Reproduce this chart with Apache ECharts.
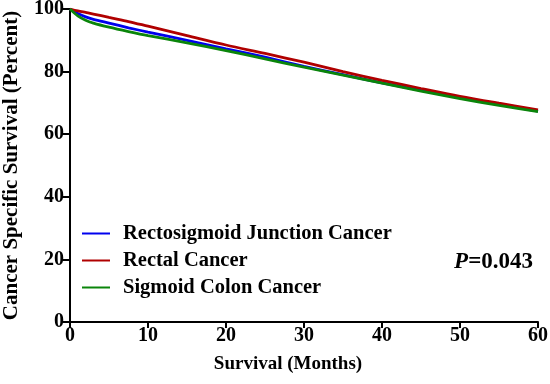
<!DOCTYPE html>
<html>
<head>
<meta charset="utf-8">
<script src="https://cdn.jsdelivr.net/npm/echarts@6/dist/echarts.min.js"></script>
<style>
  html, body { margin: 0; padding: 0; background: #fff; }
  #main { width: 550px; height: 384px; }
</style>
</head>
<body>
<div id="main"></div>
<script>
// survival time points (months)
const months = [0, 1, 2, 3, 5, 7.5, 10, 15, 20, 25, 30, 35, 40, 45, 50, 55, 60];
// cancer specific survival (%)
const rectosigmoid = [100, 98.6, 97.5, 96.7, 95.5, 94.0, 92.6, 90.0, 87.3, 84.6, 81.7, 79.0, 76.4, 74.0, 71.7, 69.5, 67.4];
const rectal = [100, 99.4, 98.9, 98.4, 97.3, 96.0, 94.5, 91.5, 88.5, 85.8, 83.0, 80.0, 77.2, 74.6, 72.1, 69.9, 67.8];
const sigmoid = [100, 97.8, 96.4, 95.5, 94.2, 92.8, 91.5, 89.2, 86.7, 84.1, 81.4, 78.9, 76.3, 73.8, 71.4, 69.2, 67.2];
const seriesNames = ['Rectosigmoid Junction Cancer', 'Rectal Cancer', 'Sigmoid Colon Cancer'];
const pValue = '0.043';

const font = '"Liberation Serif", "Times New Roman", serif';
const pairs = arr => months.map((m, i) => [m, arr[i]]);

const myChart = echarts.init(document.getElementById('main'));

const mkSeries = (name, arr, color) => ({
    name: name,
    type: 'line',
    data: pairs(arr),
    showSymbol: false,
    smooth: 0.3,
    lineStyle: { color: color, width: 2.8 },
    itemStyle: { color: color },
    emphasis: { disabled: true }
});

myChart.setOption({
    animation: false,
    grid: { left: 70, right: 12, top: 9, bottom: 62, outerBoundsMode: 'none', containLabel: false },
    title: {
        text: '{i|P}=' + pValue,
        right: 12,
        top: 246,
        textStyle: {
            fontFamily: font, fontSize: 23, fontWeight: 'bold', color: '#000',
            rich: { i: { fontFamily: font, fontSize: 23, fontWeight: 'bold', fontStyle: 'italic', color: '#000' } }
        }
    },
    legend: {
        orient: 'vertical',
        left: 77,
        top: 218,
        itemWidth: 28,
        itemHeight: 2,
        itemGap: 6,
        icon: 'rect',
        data: seriesNames,
        textStyle: { fontFamily: font, fontSize: 20.5, fontWeight: 'bold', color: '#000', padding: [0, 0, 0, 8] }
    },
    xAxis: {
        type: 'value',
        min: 0, max: 60, interval: 10,
        name: 'Survival (Months)',
        nameLocation: 'middle',
        nameGap: 33,
        nameTextStyle: { fontFamily: font, fontSize: 19, fontWeight: 'bold', color: '#000', padding: [0, 32, 0, 0] },
        axisLine: { lineStyle: { color: '#000', width: 2 } },
        axisTick: { length: 6, lineStyle: { color: '#000', width: 2 } },
        axisLabel: { fontFamily: font, fontSize: 20, fontWeight: 'bold', color: '#000', margin: 4 },
        splitLine: { show: false }
    },
    yAxis: {
        type: 'value',
        min: 0, max: 100, interval: 20,
        name: 'Cancer Specific Survival (Percent)',
        nameLocation: 'middle',
        nameGap: 48,
        nameTextStyle: { fontFamily: font, fontSize: 21, fontWeight: 'bold', color: '#000' },
        axisLine: { show: true, lineStyle: { color: '#000', width: 2 } },
        axisTick: { show: true, length: 7, lineStyle: { color: '#000', width: 2 } },
        axisLabel: { fontFamily: font, fontSize: 20, fontWeight: 'bold', color: '#000', margin: 6 },
        splitLine: { show: false }
    },
    series: [
        mkSeries(seriesNames[0], rectosigmoid, '#0000ee'),
        mkSeries(seriesNames[1], rectal, '#b00000'),
        mkSeries(seriesNames[2], sigmoid, '#0a850a')
    ]
});
</script>
</body>
</html>
